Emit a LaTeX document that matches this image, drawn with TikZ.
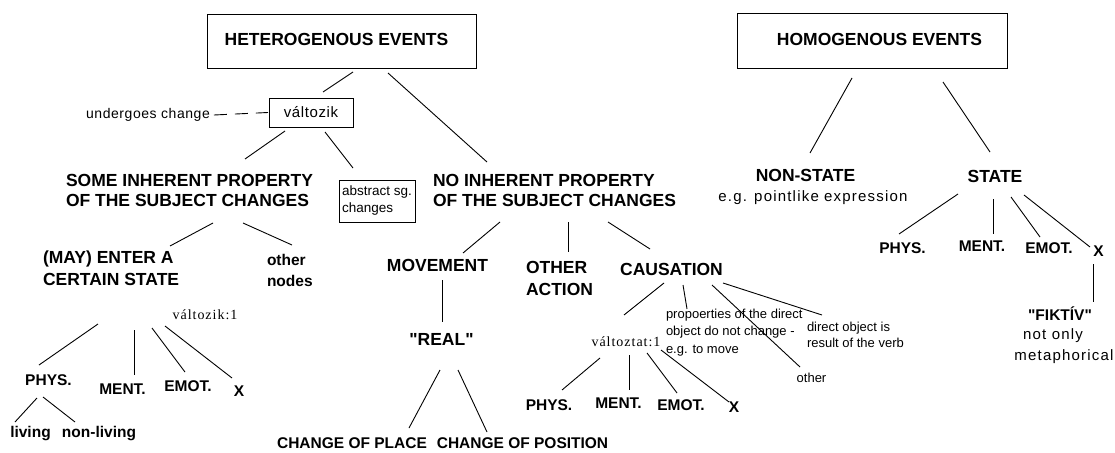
\documentclass[tikz,border=0pt]{standalone}
\usepackage{fontspec}
\setmainfont{Liberation Sans}[Ligatures=TeXOff]
\newfontfamily\widesans[LetterSpace=8]{Liberation Sans}
\newfontfamily\halfwide[LetterSpace=4]{Liberation Sans}
\newfontfamily\widserif[LetterSpace=7]{Liberation Serif}
\begin{document}
\begin{tikzpicture}[x=1pt,y=-1pt,
  every node/.style={inner sep=0pt, outer sep=0pt},
  frame/.style={draw, line width=1pt},
  head/.style={font=\bfseries\fontsize{17.5}{20}\selectfont},
  twoline/.style={font=\bfseries\fontsize{17.5}{20}\selectfont, align=left},
  wideline/.style={font=\bfseries\fontsize{17.5}{22}\selectfont, align=left},
  leaf/.style={font=\bfseries\fontsize{15.5}{21}\selectfont, align=left},
  note/.style={font=\fontsize{13}{17.5}\selectfont, align=left},
  plain/.style={font=\widesans\fontsize{15}{21}\selectfont},
  sense/.style={font=\widserif\fontsize{14}{16}\selectfont},
  link/.style={draw, line width=0.9pt},
]
\fill[white] (0,0) rectangle (1115,452);
\useasboundingbox (0,0) rectangle (1115,452);

% ---- top boxes ----
\node[frame, minimum width=269pt, minimum height=53pt,
      label={[head, xshift=-5pt, yshift=2pt]center:HETEROGENOUS EVENTS}] (het) at (341.5,41.5) {};
\node[frame, minimum width=270pt, minimum height=54pt,
      label={[head, xshift=7.5pt, yshift=2pt]center:HOMOGENOUS EVENTS}] (hom) at (872,41) {};

% ---- heterogenous branch ----
\node[frame, minimum width=84pt, minimum height=29pt,
      font=\halfwide\fontsize{15}{18}\selectfont] (valt) at (311,112.5) {változik};
\node[font=\halfwide\fontsize{14}{16}\selectfont] (under) at (148,115) {undergoes change};
\node[frame, minimum width=76pt, minimum height=42pt, align=left,
      font=\fontsize{13.5}{17}\selectfont] (abs) at (377,201) {abstract sg.\\changes};

\node[twoline, anchor=west] (some) at (66,190.5) {SOME INHERENT PROPERTY\\OF THE SUBJECT CHANGES};
\node[twoline, anchor=west] (noinh) at (433,190.5) {NO INHERENT PROPERTY\\OF THE SUBJECT CHANGES};

\node[wideline, anchor=west] (may) at (43,268) {(MAY) ENTER A\\CERTAIN STATE};
\node[leaf, anchor=west] (othn) at (267,270.5) {other\\nodes};
\node[sense] (vk1) at (205,315) {változik:1};
\node[leaf] (lphys) at (48.5,380.5) {PHYS.};
\node[leaf] (lment) at (122.5,389) {MENT.};
\node[leaf] (lemot) at (188,386) {EMOT.};
\node[leaf] (lx) at (239,391.5) {X};
\node[leaf] (living) at (30.5,434) {living};
\node[leaf] (nonliv) at (99,434) {non-living};

\node[head] (move) at (437.5,265.5) {MOVEMENT};
\node[wideline, anchor=west] (oact) at (526,278.5) {OTHER\\ACTION};
\node[head] (caus) at (671.5,269.5) {CAUSATION};
\node[head] (real) at (441.5,339.5) {"REAL"};
\node[leaf] (cplace) at (352,443.5) {CHANGE OF PLACE};
\node[leaf] (cpos) at (522.5,443.5) {CHANGE OF POSITION};

\node[sense] (vt1) at (626,341.5) {változtat:1};
\node[note, anchor=west] (prop) at (666,332.5) {propoerties of the direct\\object do not change -\\e.g. to move};
\node[note, anchor=west, font=\fontsize{13}{16}\selectfont] (dobj) at (807,335) {direct object is\\result of the verb};
\node[note] (othc) at (811.5,378) {other};
\node[leaf] (cphys) at (549,405) {PHYS.};
\node[leaf] (cment) at (618.5,403.5) {MENT.};
\node[leaf] (cemot) at (681,405) {EMOT.};
\node[leaf] (cx) at (734,407.5) {X};

% ---- homogenous branch ----
\node[head] (nonst) at (805.5,175.5) {NON-STATE};
\node[plain] (eg) at (813,197.5) {e.g. pointlike expression};
\node[head] (state) at (995,176.5) {STATE};
\node[leaf] (sphys) at (902.5,248) {PHYS.};
\node[leaf] (sment) at (982,246.5) {MENT.};
\node[leaf] (semot) at (1049,248.5) {EMOT.};
\node[leaf] (sx) at (1098.5,251.5) {X};
\node[leaf] (fikt) at (1060,313.5) {"FIKTÍV"};
\node[plain] (notonly) at (1053,336) {not only};
\node[plain] (metaph) at (1064,357) {metaphorical};

% ---- connectors ----
\draw[link] ([shift={(11.5,30.5)}]het.center) -- ([shift={(12,-20.5)}]valt.center);
\draw[link, dash pattern=on 13pt off 8pt] ([shift={(4,0)}]under.east) -- ([shift={(-1,0)}]valt.west);
\draw[link] ([shift={(-26,18.5)}]valt.center) -- ([shift={(179,-31.5)}]some.west);
\draw[link] ([shift={(14,19.5)}]valt.center) -- ([shift={(-24,-33)}]abs.center);
\draw[link] ([shift={(46.5,31.5)}]het.center) -- ([shift={(54,-28.5)}]noinh.west);

\draw[link] ([shift={(147,32.5)}]some.west) -- ([shift={(127,-22)}]may.west);
\draw[link] ([shift={(177,32.5)}]some.west) -- ([shift={(25,-25.5)}]othn.west);
\draw[link] ([shift={(55,56)}]may.west) -- ([shift={(-9.5,-15.5)}]lphys.center);
\draw[link] ([shift={(91,62)}]may.west) -- ([shift={(11.5,-14)}]lment.center);
\draw[link] ([shift={(109,60)}]may.west) -- ([shift={(-3,-14)}]lemot.center);
\draw[link] ([shift={(122,58)}]may.west) -- ([shift={(-7,-13.5)}]lx.center);
\draw[link] ([shift={(-11.5,17.5)}]lphys.center) -- ([shift={(-15.5,-12)}]living.center);
\draw[link] ([shift={(-5.5,16.5)}]lphys.center) -- ([shift={(-24,-12)}]nonliv.center);

\draw[link] ([shift={(67,31.5)}]noinh.west) -- ([shift={(25.5,-12.5)}]move.center);
\draw[link] ([shift={(135,31.5)}]noinh.west) -- ([shift={(42,-26.5)}]oact.west);
\draw[link] ([shift={(175,31.5)}]noinh.west) -- ([shift={(-21.5,-20.5)}]caus.center);
\draw[link] ([shift={(4.5,14.5)}]move.center) -- ([shift={(0.5,-17.5)}]real.center);
\draw[link] ([shift={(-1.5,30.5)}]real.center) -- ([shift={(57,-15.5)}]cplace.center);
\draw[link] ([shift={(16.5,30.5)}]real.center) -- ([shift={(-35.5,-11.5)}]cpos.center);

\draw[link] ([shift={(-7.5,13.5)}]caus.center) -- ([shift={(-2,-26.5)}]vt1.center);
\draw[link] ([shift={(11.5,15.5)}]caus.center) -- ([shift={(21,-23.5)}]prop.west);
\draw[link] ([shift={(40.5,15.5)}]caus.center) -- ([shift={(-11.5,-11)}]othc.center);
\draw[link] ([shift={(51.5,13.5)}]caus.center) -- ([shift={(15,-20)}]dobj.west);
\draw[link] ([shift={(-26,16.5)}]vt1.center) -- ([shift={(13,-15)}]cphys.center);
\draw[link] ([shift={(3,13.5)}]vt1.center) -- ([shift={(10.5,-13.5)}]cment.center);
\draw[link] ([shift={(21,11.5)}]vt1.center) -- ([shift={(-4,-12)}]cemot.center);
\draw[link] ([shift={(35,8.5)}]vt1.center) -- ([shift={(-5,-5.5)}]cx.center);

\draw[link] ([shift={(-20,37)}]hom.center) -- ([shift={(4.5,-22.5)}]nonst.center);
\draw[link] ([shift={(71,41)}]hom.center) -- ([shift={(-5,-24.5)}]state.center);
\draw[link] ([shift={(-37,17.5)}]state.center) -- ([shift={(-3.5,-14)}]sphys.center);
\draw[link] ([shift={(-2,22.5)}]state.center) -- ([shift={(11,-12.5)}]sment.center);
\draw[link] ([shift={(16,20.5)}]state.center) -- ([shift={(-9,-11.5)}]semot.center);
\draw[link] ([shift={(29,18.5)}]state.center) -- ([shift={(-8.5,-4.5)}]sx.center);
\draw[link] ([shift={(-5.5,12.5)}]sx.center) -- ([shift={(33,-11.5)}]fikt.center);
\end{tikzpicture}
\end{document}
